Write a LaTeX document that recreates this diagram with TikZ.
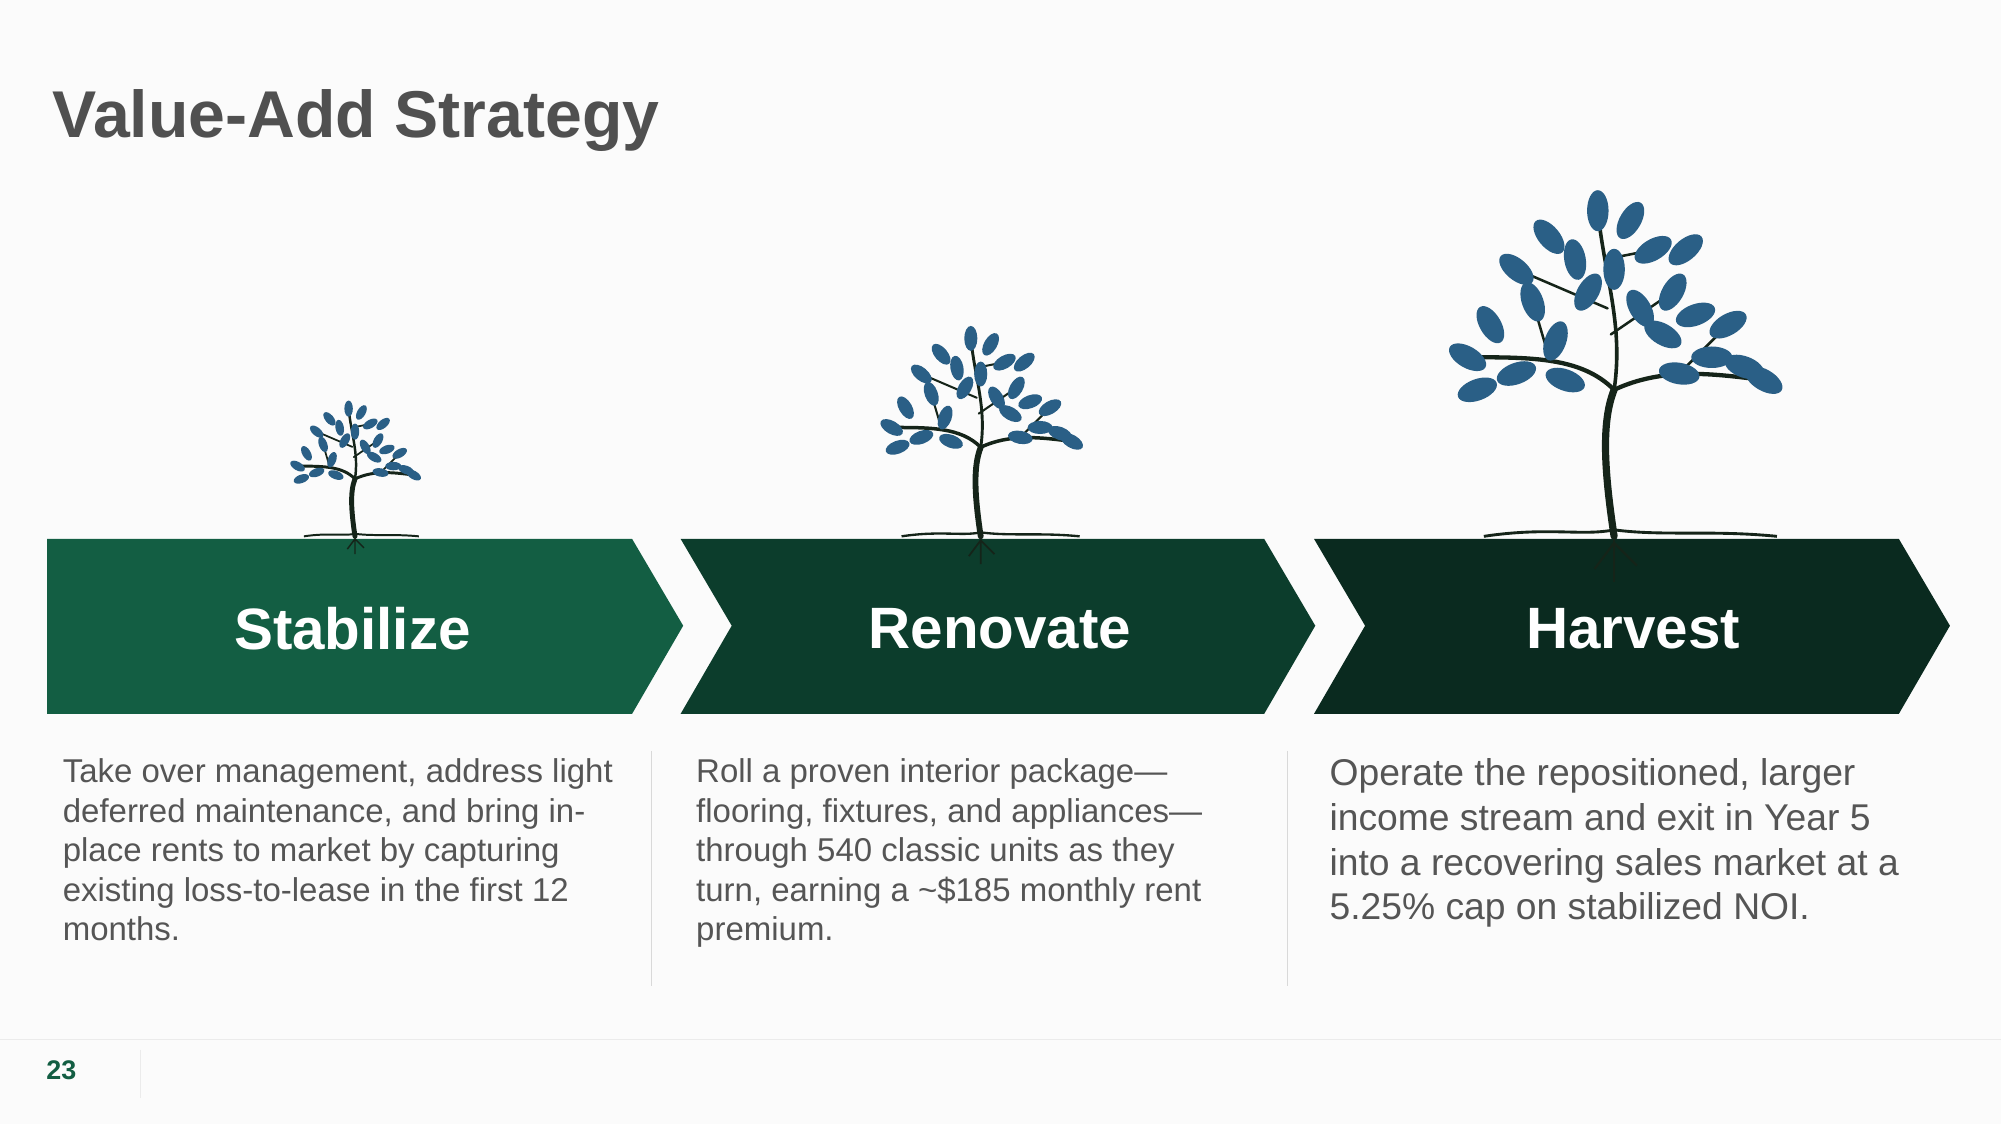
\documentclass[tikz,border=0pt]{standalone}
\usepackage{fontspec}
\setmainfont{Liberation Sans}
\definecolor{bg}{HTML}{FBFBFB}
\definecolor{gA}{HTML}{135E43}
\definecolor{gB}{HTML}{0C3D2C}
\definecolor{gC}{HTML}{0A2A1F}
\definecolor{leafc}{HTML}{2A5F86}
\definecolor{trunkc}{HTML}{152419}
\definecolor{txt}{HTML}{555555}
\definecolor{ttl}{HTML}{505050}
\tikzset{
  stage/.style={text=white,font=\fontsize{26}{28}\selectfont\bfseries},
  body/.style={text=txt,anchor=north west,align=left,font=\fontsize{14.7}{17.6}\selectfont},
  bodyL/.style={text=txt,anchor=north west,align=left,font=\fontsize{16.6}{19.9}\selectfont},
  divider/.style={draw=black!15,line width=0.6pt},
  leaf/.style={fill=leafc},
}
\newcommand\drawtree[4]{%
\begin{scope}[shift={(#1,#2)},scale=#3]
 \draw[trunkc,line width=0.4*#4] (-40,0) .. controls (-20,-3) and (-10,0) .. (0,-2) .. controls (15,0) and (30,-2) .. (50,0);
 \draw[trunkc,line width=0.3*#4] (0,0) -- (0,14) (0,2) -- (-6,10) (0,2) -- (7,9);
 \draw[trunkc,line width=#4,line cap=round] (0,0) .. controls (-3,-20) and (-4,-35) .. (0,-45);
 \draw[trunkc,line width=0.6*#4,line cap=round] (0,-45) .. controls (-10,-55) and (-25,-55) .. (-45,-55);
 \draw[trunkc,line width=0.6*#4,line cap=round] (0,-45) .. controls (15,-52) and (30,-50) .. (46,-48);
 \draw[trunkc,line width=0.5*#4,line cap=round] (0,-45) .. controls (3,-65) and (-3,-80) .. (-5,-100);
 \draw[trunkc,line width=0.35*#4,line cap=round] (-2,-70) -- (-30,-82) (-1,-62) -- (18,-75) (-20,-55) -- (-25,-72) (-3,-85) -- (12,-88) (20,-50) -- (35,-65);
 \foreach \x/\y/\a in {-45/-55/150,-38/-65/120,-30/-50/200,-25/-72/110,-18/-60/70,-30/-82/140,-12/-85/100,-5/-100/90,5/-97/60,12/-88/30,18/-75/60,25/-68/20,8/-70/120,-8/-75/60,30/-55/0,40/-52/-20,46/-48/-30,20/-50/-10,35/-65/30,-42/-45/200,0/-82/90,15/-62/-30,-15/-48/160,-20/-92/130,22/-88/40}
   \fill[leaf,rotate around={\a:(\x,\y)}] (\x,\y) ellipse (6.3 and 3.3);
\end{scope}}
\begin{document}
\begin{tikzpicture}[x=0.02cm,y=-0.02cm]
\fill[bg] (0,0) rectangle (1567,880);
\useasboundingbox (0,0) rectangle (1567,880);
\node[anchor=west,text=ttl,font=\fontsize{29.5}{32}\selectfont\bfseries] (title) at (35,94) {Value-Add Strategy};
% chevrons
\fill[gA] (37,422) -- (495,422) -- (535,490) -- (495,559) -- (37,559) -- cycle;
\fill[gB] (533,422) -- (990,422) -- (1030,490) -- (990,559) -- (533,559) -- (573,490) -- cycle;
\fill[gC] (1029,422) -- (1487,422) -- (1527,490) -- (1487,559) -- (1029,559) -- (1069,490) -- cycle;
\node[stage] (s1) at (276,492) {Stabilize};
\node[stage] (s2) at (783,492) {Renovate};
\node[stage] (s3) at (1279,492) {Harvest};
% trees
\drawtree{278}{420}{1.0}{2.2pt}
\drawtree{768}{420}{1.55}{2.6pt}
\drawtree{1264}{420}{2.55}{3.2pt}
% texts
\node[body] (t1) at (43,588) {Take over management, address light\\deferred maintenance, and bring in-\\place rents to market by capturing\\existing loss-to-lease in the first 12\\months.};
\node[body] (t2) at (539,588) {Roll a proven interior package—\\flooring, fixtures, and appliances—\\through 540 classic units as they\\turn, earning a \textasciitilde\$185 monthly rent\\premium.};
\node[bodyL] (t3) at (1035,588) {Operate the repositioned, larger\\income stream and exit in Year 5\\into a recovering sales market at a\\5.25\% cap on stabilized NOI.};
\draw[divider] (510,588) -- (510,772);
\draw[divider] (1008,588) -- (1008,772);
\draw[black!8,line width=0.6pt] (0,814) -- (1567,814);
\draw[black!8,line width=0.6pt] (110,822) -- (110,860);
\node[text=gA,font=\fontsize{12}{14}\selectfont\bfseries] (pg) at (48,838) {23};
\end{tikzpicture}
\end{document}
